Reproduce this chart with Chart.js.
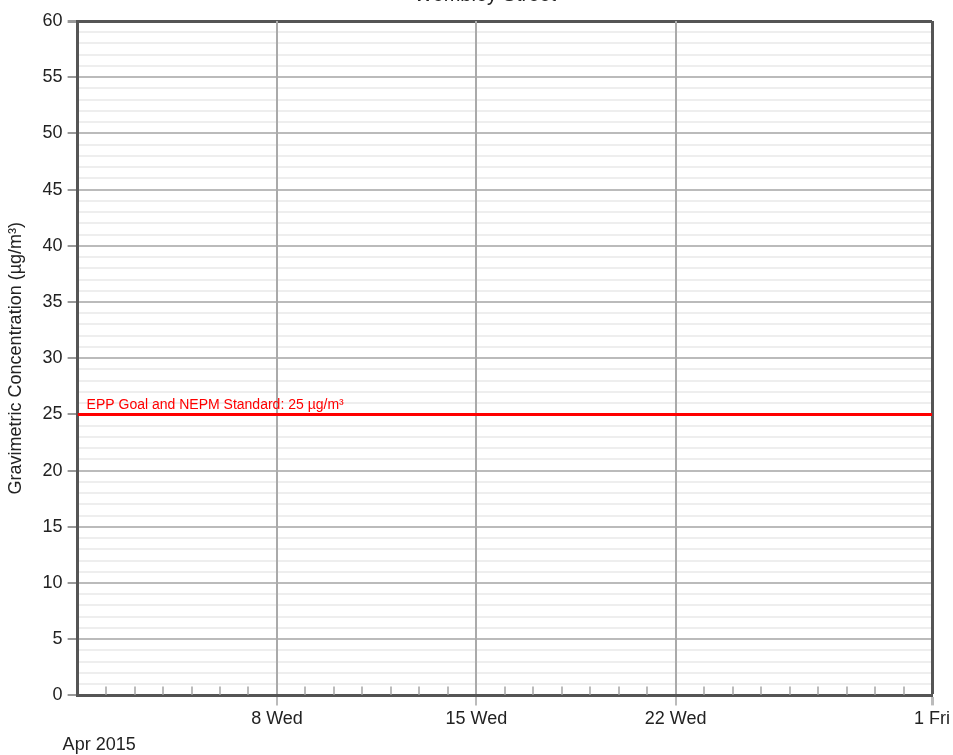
<!DOCTYPE html>
<html>
<head>
<meta charset="utf-8">
<script src="https://cdn.jsdelivr.net/npm/chart.js@4/dist/chart.umd.min.js"></script>
<style>
  html, body { margin: 0; padding: 0; background: #fff; }
  #wrap { width: 953px; height: 755px; }
</style>
</head>
<body>
<div id="wrap"><canvas id="pm-chart"></canvas></div>
<script>
/* Data: days counted from 1 Apr 2015 */
let dayStart = 0
let dayEnd = 30
let weekTicks = [7, 14, 21, 30]
let weekLabels = ['8 Wed', '15 Wed', '22 Wed', '1 Fri']
let monthLabel = 'Apr 2015'

let goalValue = 25
let goalLabel = 'EPP Goal and NEPM Standard: 25 µg/m³'
let yMin = 0
let yMax = 60

let chartTitle = 'Wembley Street'
let yTitle = 'Gravimetric Concentration (µg/m³)'

let fontFamily = '"Liberation Sans", Arial, sans-serif'

// extra bits: day ticks inside the plot, goal label, month label, title
let extrasPlugin = {
    id: 'extras',
    afterDraw(chart) {
        let c = chart.ctx
        let xs = chart.scales.x
        let ys = chart.scales.y
        let area = chart.chartArea

        // daily minor ticks pointing up from the axis
        c.save()
        c.strokeStyle = '#bbb'
        c.lineWidth = 2
        for (let d = dayStart + 1; d < dayEnd; d++) {
            if (weekTicks.includes(d)) continue
            let px = Math.round(xs.getPixelForValue(d))
            c.beginPath()
            c.moveTo(px, area.bottom - 1)
            c.lineTo(px, area.bottom - 9)
            c.stroke()
        }

        // goal label
        c.fillStyle = '#ff0000'
        c.font = '14px ' + fontFamily
        c.textBaseline = 'alphabetic'
        c.textAlign = 'left'
        c.fillText(goalLabel, area.left + 9, ys.getPixelForValue(goalValue) - 5)

        // month label
        c.fillStyle = '#222'
        c.font = '18px ' + fontFamily
        c.textBaseline = 'middle'
        c.fillText(monthLabel, area.left - 15, 745)

        // title, mostly above the top edge
        c.textAlign = 'center'
        c.textBaseline = 'alphabetic'
        c.font = '20px ' + fontFamily
        c.fillText(chartTitle, 485, 1)
        c.restore()
    }
}

let ctx = document.querySelector('#pm-chart').getContext('2d')

let pmChart = new Chart(ctx, {
    type: 'line',
    data: {
        datasets: [
            {
                label: goalLabel,
                data: [ { x: dayStart, y: goalValue }, { x: dayEnd, y: goalValue } ],
                borderColor: '#ff0000',
                borderWidth: 3,
                pointRadius: 0,
                fill: false
            }
        ]
    },
    options: {
        responsive: true,
        maintainAspectRatio: false,
        animation: false,
        layout: { padding: { top: 21, right: 4, bottom: 22, left: 5 } },
        plugins: {
            legend: { display: false },
            tooltip: { enabled: false }
        },
        scales: {
            x: {
                type: 'linear',
                min: dayStart,
                max: dayEnd,
                afterBuildTicks(scale) {
                    scale.ticks = weekTicks.map(v => ({ value: v }))
                },
                ticks: {
                    autoSkip: false,
                    maxRotation: 0,
                    color: '#222',
                    font: { family: fontFamily, size: 18 },
                    padding: 3,
                    callback: function(value) {
                        let i = weekTicks.indexOf(value)
                        return i >= 0 ? weekLabels[i] : ''
                    }
                },
                grid: {
                    z: -1,
                    color: function(context) {
                        return context.tick && context.tick.value === dayEnd ? '#555' : '#aaa'
                    },
                    lineWidth: function(context) {
                        return context.tick && context.tick.value === dayEnd ? 3 : 2
                    },
                    tickLength: 10,
                    tickColor: '#bbb'
                },
                border: { color: '#555', width: 3 }
            },
            y: {
                min: yMin,
                max: yMax,
                ticks: {
                    stepSize: 1,
                    autoSkip: false,
                    color: '#222',
                    font: { family: fontFamily, size: 18 },
                    padding: 5,
                    callback: function(value) {
                        return value % 5 === 0 ? value : ''
                    }
                },
                grid: {
                    z: -2,
                    color: function(context) {
                        let v = context.tick.value
                        if (v === yMax) return '#555'
                        return v % 5 === 0 ? '#bbb' : '#eee'
                    },
                    lineWidth: function(context) {
                        return context.tick.value === yMax ? 3 : 2
                    },
                    tickLength: 10,
                    tickColor: function(context) {
                        return context.tick.value % 5 === 0 ? '#999' : 'rgba(0,0,0,0)'
                    }
                },
                border: { color: '#555', width: 3 },
                title: {
                    display: true,
                    text: yTitle,
                    color: '#222',
                    font: { family: fontFamily, size: 18 },
                    padding: { top: 0, bottom: 11 }
                }
            }
        }
    },
    plugins: [extrasPlugin]
})
</script>
</body>
</html>
